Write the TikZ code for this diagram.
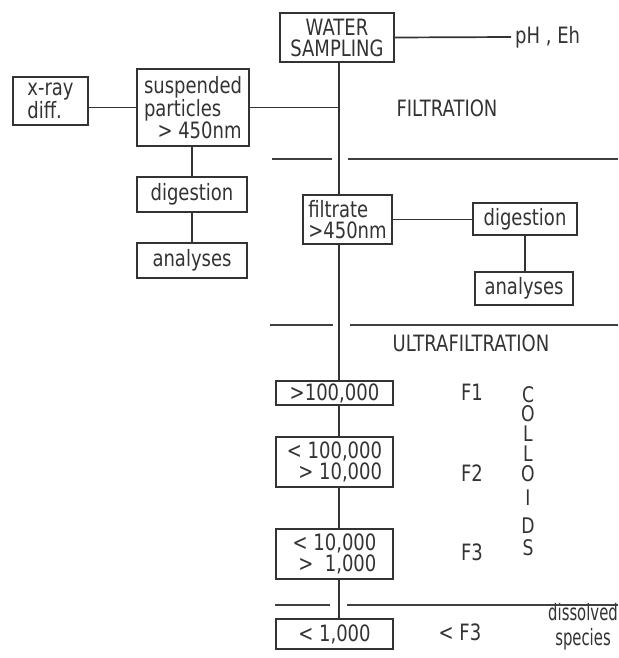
\documentclass[tikz,border=0pt]{standalone}
\usepackage{fontspec}
\setmainfont{DejaVu Sans}[FakeStretch=0.8]
\newfontfamily\narrowfont{DejaVu Sans}[FakeStretch=0.66]
\usetikzlibrary{positioning}

\begin{document}
\begin{tikzpicture}[
      x=1pt, y=-1pt,
      every node/.style={font=\fontsize{22.5}{21}\selectfont, text=black!80},
      box/.style={rectangle, draw=black!80, line width=1.7pt, inner sep=2pt, align=center},
      line/.style={draw=black!80, line width=1.7pt},
      sep/.style={draw=black!75, line width=1.7pt},
      letter/.style={inner sep=0pt, font=\fontsize{21.5}{21}\selectfont}
    ]
      \useasboundingbox (0,0) rectangle (618,658);
      \coordinate (spine) at (339,0);

      % Top: sampling
      \node[box, minimum width=114pt, minimum height=49pt] (ws) at (337,37.5) {WATER\\SAMPLING};
      \node[anchor=west, inner sep=4pt] (ph) at (511,37) {pH , Eh};

      % Filtration: suspended particles branch
      \node[box, minimum width=75pt, minimum height=48pt, align=left] (xray) at (50.5,101) {x-ray\\diff.};
      \node[box, minimum width=112pt, minimum height=77pt, align=left] (susp) at (193,107.5) {suspended\\particles\\\hspace*{0.6em}> 450nm};
      \node[box, minimum width=110pt, minimum height=35pt] (digl) at (192,194.5) {digestion};
      \node[box, minimum width=110pt, minimum height=35pt] (anl) at (192,260.5) {analyses};
      \node (filtr) at (447,108) {FILTRATION};

      % Filtration: filtrate branch
      \node[box, minimum width=89pt, minimum height=49pt, align=left] (filt) at (347.5,219.5) {filtrate\\>450nm};
      \node[box, minimum width=104pt, minimum height=32pt] (digr) at (525,219) {digestion};
      \node[box, minimum width=98pt, minimum height=33pt] (anr) at (524,288.5) {analyses};

      % Ultrafiltration fractions
      \node (ultra) at (471,343) {ULTRAFILTRATION};
      \node[box, minimum width=117pt, minimum height=24pt] (fbox1) at (334.5,393) {>100,000};
      \node[box, minimum width=117pt, minimum height=50pt, align=right] (fbox2) at (334.5,462) {< 100,000\\> 10,000};
      \node[box, minimum width=117pt, minimum height=50pt, align=right] (fbox3) at (334.5,554) {< 10,000\\>\ \ 1,000};
      \node[box, minimum width=117pt, minimum height=30pt] (dbox) at (334.5,634) {< 1,000};

      \node (f1) at (472,392) {F1};
      \node (f2) at (472,473) {F2};
      \node (f3) at (472,552) {F3};
      \node (lf3) at (460,632) {< F3};
      \node[align=center, inner sep=1pt, font={\fontsize{22.5}{25}\selectfont\narrowfont}] (diss) at (583,627) {dissolved\\species};

      % vertical COLLOIDS
      \foreach \l/\y [count=\i] in {C/395,O/414,L/434,L/454,O/474,I/498,D/526,S/548}
        \node[letter] (col\i) at (528,\y) {\l};

      % === SEPARATORS ===
      \draw[sep] (272,159) -- (332,159) (348,159) -- (618,159);
      \draw[sep] (270,325) -- (333,325) (350,325) -- (618,325);
      \draw[sep] (275,605) -- (330,605) (347,605) -- (618,605);

      % === CONNECTORS ===
      \draw[line] (ws.east) -- (ph.west);
      \draw[line] (ws.south -| spine) -- (filt.north -| spine);
      \draw[line] (susp.west) -- (susp.west -| xray.east);
      \draw[line] (susp.east) -- (susp.east -| spine);
      \draw[line] (digl.north) -- (digl.north |- susp.south);
      \draw[line] (digl.south) -- (anl.north);
      \draw[line] (filt.east) -- (filt.east -| digr.west);
      \draw[line] (digr.south) -- (digr.south |- anr.north);

      % main line through the fractions
      \draw[line] (filt.south -| spine) -- (fbox1.north -| spine);
      \draw[line] (fbox1.south -| spine) -- (fbox2.north -| spine);
      \draw[line] (fbox2.south -| spine) -- (fbox3.north -| spine);
      \draw[line] (fbox3.south -| spine) -- (dbox.north -| spine);
    \end{tikzpicture}
\end{document}
